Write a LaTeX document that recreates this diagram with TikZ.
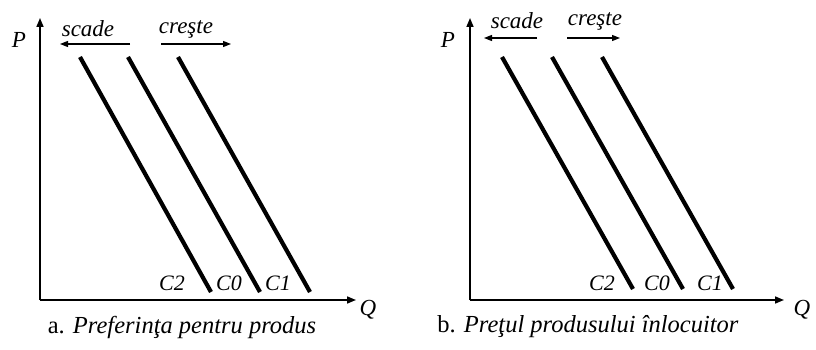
\documentclass[tikz,border=0pt]{standalone}
\usepackage{fontspec}
\setmainfont{Liberation Serif}
\usetikzlibrary{arrows.meta}
\begin{document}
\begin{tikzpicture}[x=1pt,y=-1pt,
  axis/.style={line width=1.6pt,-{Triangle[length=9pt,width=7pt]}},
  curve/.style={line width=4.2pt},
  movearrow/.style={line width=1.3pt,-{Triangle[length=8pt,width=6pt]}},
  lbl/.style={font=\fontsize{23}{26}\selectfont\itshape, inner sep=0pt},
  clbl/.style={font=\fontsize{22}{26}\selectfont\itshape, inner sep=0pt},
  captext/.style={font=\fontsize{24.5}{28}\selectfont, inner sep=0pt}]
\useasboundingbox (0,0) rectangle (816,350);
% ---- panel a ----
\coordinate (oa) at (40,300);
\coordinate (ya) at (40,18);
\coordinate (xa) at (356,300);
\draw[axis] (oa) -- (ya);
\draw[axis] (oa) -- (xa);
\node[lbl] (Pa) at (19,40) {P};
\node[lbl] (Qa) at (368,310) {Q};
\node[lbl] (sa) at (88,29) {scade};
\node[lbl] (ca) at (186,29) {creşte};
\coordinate (sa1) at (130,44); \coordinate (sa2) at (60,44);
\coordinate (ca1) at (161,44); \coordinate (ca2) at (231,44);
\draw[movearrow] (sa1) -- (sa2);
\draw[movearrow] (ca1) -- (ca2);
\coordinate (a2t) at (80,57);  \coordinate (a2b) at (211,292);
\coordinate (a0t) at (128,57); \coordinate (a0b) at (260,292);
\coordinate (a1t) at (178,57); \coordinate (a1b) at (310,292);
\draw[curve] (a2t) -- (a2b);
\draw[curve] (a0t) -- (a0b);
\draw[curve] (a1t) -- (a1b);
\node[clbl] (C2a) at (172,283) {C2};
\node[clbl] (C0a) at (229,283) {C0};
\node[clbl] (C1a) at (278,283) {C1};
\node[captext] (capa) at (182,327) {a. \textit{Preferinţa pentru produs}};
% ---- panel b ----
\coordinate (ob) at (470,300);
\coordinate (yb) at (470,18);
\coordinate (xb) at (784,300);
\draw[axis] (ob) -- (yb);
\draw[axis] (ob) -- (xb);
\node[lbl] (Pb) at (448,40) {P};
\node[lbl] (Qb) at (802,310) {Q};
\node[lbl] (sb) at (517,21) {scade};
\node[lbl] (cb) at (595,21) {creşte};
\coordinate (sb1) at (537,38); \coordinate (sb2) at (484,38);
\coordinate (cb1) at (567,38); \coordinate (cb2) at (620,38);
\draw[movearrow] (sb1) -- (sb2);
\draw[movearrow] (cb1) -- (cb2);
\coordinate (b2t) at (502,57); \coordinate (b2b) at (633,289);
\coordinate (b0t) at (552,57); \coordinate (b0b) at (683,289);
\coordinate (b1t) at (602,57); \coordinate (b1b) at (733,289);
\draw[curve] (b2t) -- (b2b);
\draw[curve] (b0t) -- (b0b);
\draw[curve] (b1t) -- (b1b);
\node[clbl] (C2b) at (602,283) {C2};
\node[clbl] (C0b) at (657,283) {C0};
\node[clbl] (C1b) at (710,283) {C1};
\node[captext] (capb) at (588,327) {b. \textit{Preţul produsului înlocuitor}};
\end{tikzpicture}
\end{document}
